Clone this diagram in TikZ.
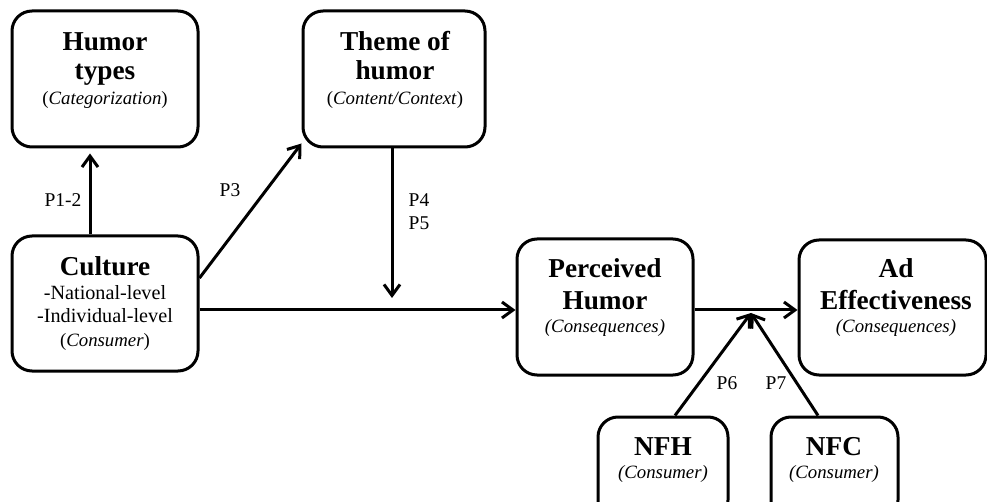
\documentclass[tikz,border=0pt]{standalone}
\usepackage{fontspec}
\setmainfont{Liberation Serif}
\usetikzlibrary{arrows.meta,calc}
\begin{document}
\begin{tikzpicture}[x=1pt,y=-1pt,
 box/.style={draw, line width=3pt, rounded corners=20pt, inner sep=0pt},
 ttl/.style={anchor=base, inner sep=0pt, font=\fontsize{27.3}{31}\selectfont\bfseries},
 sub/.style={anchor=base, inner sep=0pt, font=\fontsize{18.8}{23}\selectfont},
 reg/.style={anchor=base, inner sep=0pt, font=\fontsize{20.2}{23}\selectfont},
 lbl/.style={inner sep=0pt, font=\fontsize{19.5}{23}\selectfont},
 arr/.style={line width=3pt, -{Straight Barb[length=11pt,width=16pt,line width=3pt]}}
]
\useasboundingbox (0,0) rectangle (987,502);
\clip (0,0) rectangle (987,502);
% boxes
\node[box, minimum width=186pt, minimum height=136pt] (ht) at (105,79) {};
\node[box, minimum width=182pt, minimum height=136pt] (th) at (394,79) {};
\node[box, minimum width=186pt, minimum height=135pt] (cu) at (105,303.5) {};
\node[box, minimum width=176pt, minimum height=136pt] (ph) at (605,307) {};
\node[box, minimum width=187pt, minimum height=135pt] (ae) at (892.5,307.5) {};
\node[box, minimum width=130pt, minimum height=103pt] (nfh) at (663,468.5) {};
\node[box, minimum width=127pt, minimum height=103pt] (nfc) at (834.5,468.5) {};
% texts
\node[ttl] (ht1) at (105,51) {Humor};
\node[ttl] (ht2) at (105,80) {types};
\node[sub] (ht3) at (105,105) {(\textit{Categorization})};
\node[ttl] (th1) at (395,51) {Theme of};
\node[ttl] (th2) at (395,80) {humor};
\node[sub] (th3) at (395,105) {(\textit{Content/Context})};
\node[ttl] (cu1) at (105,276) {Culture};
\node[reg] (cu2) at (105,300) {-National-level};
\node[reg] (cu3) at (105,323) {-Individual-level};
\node[sub] (cu4) at (105,346) {(\textit{Consumer})};
\node[ttl] (ph1) at (605,278) {Perceived};
\node[ttl] (ph2) at (605,309) {Humor};
\node[sub] (ph3) at (605,332) {\textit{(Consequences)}};
\node[ttl] (ae1) at (896,278) {Ad};
\node[ttl] (ae2) at (896,309) {Effectiveness};
\node[sub] (ae3) at (896,332) {\textit{(Consequences)}};
\node[ttl] (nfh1) at (663,455) {NFH};
\node[sub] (nfh2) at (663,478) {\textit{(Consumer)}};
\node[ttl] (nfc1) at (834,455) {NFC};
\node[sub] (nfc2) at (834,478) {\textit{(Consumer)}};
% connectors
\coordinate (m45) at (392,298);
\coordinate (mm) at (751,313);
\draw[arr] ($(cu.north)+(-15,0)$) -- ($(ht.south)+(-15,5)$);
\draw[arr] ($(cu.east)+(0,-25.5)$) -- ($(th.south west)+(0,-5)$);
\draw[arr] ($(th.south)+(-2,0)$) -- (m45);
\draw[arr] ($(cu.east)+(0,6.5)$) -- ($(ph.west)+(0,3)$);
\draw[arr] ($(ph.east)+(0,3)$) -- ($(ae.west)+(0,2.5)$);
\draw[arr] ($(nfh.north)+(12,0)$) -- (mm);
\draw[arr] ($(nfc.north)+(-16.5,0)$) -- (mm);
% labels
\node[lbl] (p12) at (63,200) {P1-2};
\node[lbl] (p3) at (230,190) {P3};
\node[lbl] (p4) at (419,200) {P4};
\node[lbl] (p5) at (419,223) {P5};
\node[lbl] (p6) at (727,383) {P6};
\node[lbl] (p7) at (776,383) {P7};
\end{tikzpicture}
\end{document}
